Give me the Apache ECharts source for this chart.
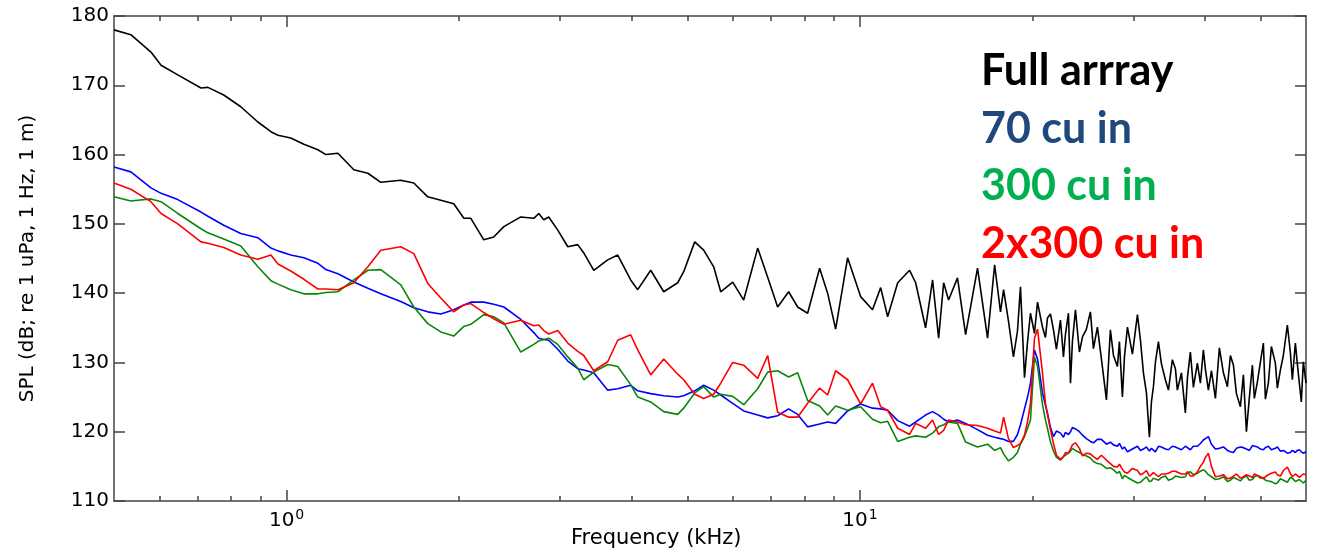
<!DOCTYPE html>
<html>
<head>
<meta charset="utf-8">
<title>SPL spectrum</title>
<script src="https://cdn.jsdelivr.net/npm/echarts@6/dist/echarts.min.js"></script>
<style>
  html, body { margin: 0; padding: 0; background: #fff; }
  #chart { width: 1325px; height: 555px; }
</style>
</head>
<body>
<div id="chart"></div>
<script>
// sample frequencies (kHz), shared by the four curves
const freq = [
  0.5, 0.535, 0.58, 0.604, 0.646, 0.709, 0.729, 0.777, 0.832, 0.891,
  0.939, 0.966, 1.017, 1.072, 1.134, 1.171, 1.229, 1.31, 1.386, 1.46,
  1.582, 1.667, 1.763, 1.858, 1.957, 2.038, 2.096, 2.208, 2.298, 2.393,
  2.562, 2.699, 2.754, 2.809, 2.866, 2.972, 3.094, 3.22, 3.299, 3.434,
  3.632, 3.781, 3.983, 4.097, 4.317, 4.548, 4.811, 4.928, 5.151, 5.34,
  5.559, 5.718, 6.0, 6.271, 6.633, 6.905, 7.187, 7.512, 7.788, 8.107,
  8.507, 8.785, 9.072, 9.519, 10.03, 10.52, 10.87, 11.18, 11.64, 12.21,
  12.51, 13.02, 13.39, 13.72, 14.0, 14.28, 14.8, 15.29, 16.04, 16.7,
  17.18, 17.59, 17.81, 18.16, 18.53, 18.83, 19.06, 19.37, 19.61, 19.84,
  20.16, 20.41, 20.82, 21.07, 21.24, 21.5, 21.76, 22.02, 22.38, 22.65,
  22.83, 23.11, 23.3, 23.48, 23.77, 24.15, 24.45, 24.84, 25.24, 25.55,
  25.96, 26.38, 26.92, 27.35, 27.69, 28.13, 28.36, 28.7, 28.94, 29.29,
  29.88, 30.49, 30.86, 31.23, 31.61, 31.99, 32.25, 32.51, 32.77, 33.17,
  33.57, 34.11, 34.53, 35.08, 35.51, 35.79, 36.38, 36.96, 37.27, 37.71,
  38.17, 38.79, 39.26, 39.73, 40.06, 40.54, 41.04, 41.7, 42.37, 43.06,
  43.76, 44.29, 44.83, 45.37, 46.1, 46.66, 47.23, 47.8, 48.38, 48.76,
  49.36, 49.95, 50.56, 50.97, 51.58, 52.21, 53.05, 53.48, 54.13, 54.78,
  55.67, 56.34, 56.8, 57.49, 57.95, 58.42, 58.88, 59.36, 60
];

// SPL (dB re 1 uPa, 1 Hz, 1 m)
const fullArray = [
  178.0, 177.3, 174.8, 172.9, 171.5, 169.6, 169.7, 168.6, 166.9, 164.7,
  163.3, 162.8, 162.4, 161.5, 160.7, 160.0, 160.2, 157.8, 157.3, 156.0,
  156.3, 155.9, 153.9, 153.4, 152.9, 150.8, 150.8, 147.7, 148.1, 149.6,
  151.0, 150.8, 151.5, 150.6, 151.0, 149.1, 146.7, 147.0, 145.8, 143.3,
  144.8, 145.5, 141.9, 140.5, 143.3, 140.2, 141.5, 143.1, 147.4, 146.2,
  143.8, 140.2, 141.6, 139.0, 146.5, 142.3, 138.0, 140.2, 138.0, 137.1,
  143.6, 140.0, 134.8, 145.1, 139.5, 137.6, 140.8, 136.6, 141.5, 143.3,
  141.5, 135.0, 141.9, 133.5, 141.5, 139.0, 142.2, 134.0, 143.6, 133.5,
  144.1, 137.3, 140.5, 136.0, 130.8, 134.5, 140.9, 127.8, 133.0, 137.1,
  134.2, 138.7, 135.1, 133.6, 136.4, 137.0, 134.7, 131.9, 136.1, 130.8,
  134.0, 137.1, 127.0, 133.0, 137.6, 131.5, 133.7, 134.8, 137.3, 132.0,
  135.1, 130.5, 124.6, 134.7, 131.0, 129.4, 133.0, 125.0, 130.8, 135.1,
  131.2, 136.9, 133.2, 128.5, 125.6, 119.2, 124.3, 126.5, 130.0, 133.0,
  129.8, 127.5, 126.0, 130.4, 129.1, 126.0, 128.5, 122.7, 127.8, 131.5,
  126.4, 129.9, 127.0, 131.8, 129.0, 126.0, 128.8, 124.8, 132.1, 128.5,
  126.5, 131.0, 129.6, 125.5, 123.6, 128.2, 120.0, 125.0, 129.6, 124.8,
  127.2, 130.0, 132.8, 124.7, 127.0, 132.3, 129.9, 126.3, 128.9, 131.0,
  135.4, 131.5, 127.5, 132.8, 129.8, 127.0, 124.3, 130.1, 127.0
];

const cu70 = [
  158.2, 157.5, 155.2, 154.4, 153.5, 151.7, 151.1, 149.8, 148.6, 148.0,
  146.5, 146.1, 145.5, 145.1, 144.3, 143.4, 142.8, 141.6, 140.7, 139.9,
  138.8, 137.9, 137.3, 137.0, 137.6, 138.3, 138.7, 138.7, 138.4, 138.0,
  136.2, 134.3, 133.5, 133.3, 133.2, 131.9, 130.2, 129.1, 128.9, 128.5,
  126.0, 126.2, 126.7, 125.9, 125.5, 125.2, 125.0, 125.2, 125.9, 126.7,
  126.0, 125.3, 124.1, 123.0, 122.4, 122.0, 122.3, 123.3, 122.5, 120.7,
  121.1, 121.4, 121.2, 123.0, 124.0, 123.4, 123.3, 123.1, 121.6, 120.8,
  121.4, 122.4, 122.9, 122.4, 121.8, 121.4, 121.7, 121.2, 120.3, 119.5,
  119.2, 119.0, 118.9, 118.6, 118.6, 119.6, 121.0, 123.3, 125.0, 127.0,
  131.8, 130.5, 125.6, 123.8, 122.7, 120.6, 119.3, 120.1, 119.8, 119.2,
  119.9, 119.6, 120.0, 120.6, 120.4, 120.0, 119.5, 119.0, 118.6, 118.4,
  118.9, 118.9, 118.2, 118.5, 118.1, 117.9, 118.3, 117.5, 117.8, 117.1,
  117.5, 117.9, 117.3, 117.5, 117.8, 117.2, 117.6, 117.4, 117.1, 117.9,
  117.8, 117.5, 117.4, 117.9, 117.8, 117.6, 117.4, 117.9, 117.7, 117.4,
  117.9, 117.9, 118.3, 118.8, 119.0, 119.3, 118.2, 117.5, 117.6, 117.8,
  117.3, 117.1, 117.0, 117.6, 117.8, 117.7, 117.5, 117.3, 118.0, 117.9,
  117.8, 117.5, 117.4, 117.7, 117.9, 117.4, 117.6, 117.8, 117.2, 117.3,
  116.9, 117.0, 117.3, 117.0, 117.3, 117.4, 117.1, 116.9, 117.1
];

const cu300 = [
  153.9, 153.3, 153.6, 153.2, 151.5, 149.3, 148.7, 147.8, 146.8, 143.8,
  141.8, 141.3, 140.5, 139.9, 139.9, 140.1, 140.2, 141.9, 143.3, 143.4,
  141.2, 138.0, 135.6, 134.4, 133.8, 135.2, 135.5, 136.9, 136.6, 135.7,
  131.5, 132.6, 133.1, 133.3, 133.5, 132.6, 130.8, 129.2, 127.5, 128.6,
  129.7, 129.4, 126.8, 125.0, 124.3, 122.9, 122.5, 123.4, 125.6, 126.5,
  125.0, 125.4, 125.1, 123.9, 126.2, 128.6, 128.8, 127.9, 128.5, 124.5,
  123.7, 122.4, 123.7, 123.1, 123.6, 121.8, 121.3, 121.5, 118.6, 119.2,
  119.4, 119.2, 119.8, 120.7, 121.0, 121.4, 121.2, 118.5, 117.8, 118.2,
  117.3, 117.7, 116.8, 115.8, 116.3, 117.0, 118.2, 119.3, 120.5, 121.7,
  130.8, 129.5, 123.9, 121.7, 120.5, 118.5, 117.2, 116.3, 115.9, 116.4,
  116.2, 116.9, 117.2, 117.6, 117.3, 117.0, 116.7, 116.5, 116.2, 115.7,
  115.4, 115.3, 114.7, 114.8, 114.5, 114.0, 114.3, 113.2, 113.7, 113.4,
  113.0, 112.6, 112.7, 113.1, 113.5, 112.8, 112.9, 113.3, 113.5, 113.0,
  113.4, 113.6, 113.0, 113.2, 113.6, 113.8, 113.4, 113.5, 114.1, 114.2,
  113.8, 114.0, 114.3, 114.5, 114.3, 113.8, 113.5, 113.1, 113.2, 113.5,
  112.8, 113.0, 113.4, 113.2, 112.9, 113.4, 113.6, 113.0, 113.1, 113.5,
  113.7, 113.3, 113.4, 113.0, 112.9, 112.8, 112.5, 112.6, 113.2, 113.0,
  112.7, 113.4, 113.3, 112.8, 113.0, 113.1, 112.9, 112.6, 113.0
];

const cu2x300 = [
  155.9, 155.0, 153.2, 151.5, 150.0, 147.4, 147.2, 146.6, 145.5, 144.9,
  145.5, 144.2, 143.2, 142.0, 140.6, 140.6, 140.5, 141.5, 143.8, 146.2,
  146.7, 145.7, 141.4, 139.3, 137.3, 138.3, 138.5, 137.2, 136.3, 135.5,
  136.1, 135.3, 135.4, 134.6, 134.1, 134.6, 132.8, 131.6, 131.0, 128.8,
  130.1, 133.2, 134.0, 131.8, 128.2, 130.5, 128.3, 127.5, 125.4, 124.8,
  125.4, 127.0, 130.0, 129.6, 127.7, 131.0, 122.8, 122.1, 122.1, 124.1,
  126.3, 125.3, 128.8, 127.5, 124.0, 127.0, 123.6, 123.1, 120.5, 119.6,
  121.2, 120.5, 121.7, 119.6, 120.2, 121.7, 121.4, 121.0, 120.9, 120.5,
  120.1, 119.8, 122.1, 119.0, 117.7, 118.0, 118.3, 119.5, 121.5, 124.1,
  133.5, 134.8, 128.5, 124.1, 122.5, 120.3, 118.3, 116.6, 116.0, 116.4,
  117.0, 116.9, 117.5, 118.1, 118.4, 117.6, 116.5, 116.9, 116.8, 116.4,
  116.0, 116.6, 115.9, 115.4, 115.0, 114.9, 115.3, 114.6, 114.2, 114.0,
  114.7, 114.4, 113.8, 114.0, 114.4, 113.6, 113.8, 114.1, 114.3, 113.5,
  113.9, 113.9, 114.0, 114.3, 114.3, 114.5, 113.9, 113.9, 114.2, 113.6,
  113.6, 114.2, 115.0, 115.6, 116.3, 116.9, 115.0, 113.5, 113.6, 113.8,
  113.2, 113.3, 113.6, 113.9, 113.3, 113.5, 113.8, 113.6, 113.4, 113.9,
  113.7, 113.5, 113.2, 113.5, 113.8, 114.0, 114.2, 113.8, 113.6, 114.4,
  114.9, 114.0, 113.5, 113.9, 113.7, 113.4, 113.6, 113.9, 113.8
];

// axis ticks
const majorTicks = [1, 10];
const majorLabels = ["10{e|0}", "10{e|1}"];
const minorTicks = [0.6, 0.7, 0.8, 0.9, 2, 3, 4, 5, 6, 7, 8, 9, 20, 30, 40, 50];

const seriesNames = ["Full arrray", "70 cu in", "300 cu in", "2x300 cu in"];
const lineColors = ["#000000", "#0000ff", "#0a860a", "#ff0000"];
const labelColors = ["#000000", "#1f497d", "#00b050", "#ff0000"];

const axisGray = "#444";
const tickFont = "DejaVu Sans";

const chart = echarts.init(document.getElementById("chart"));

const pairs = arr => freq.map((f, i) => [f, arr[i]]);

const xBase = {
  type: "log",
  logBase: 10,
  min: 0.5,
  max: 60,
  gridIndex: 0,
  splitLine: { show: false },
  axisLine: { show: false }
};

const tick = (len, values) => ({
  show: true,
  inside: true,
  length: len,
  customValues: values,
  lineStyle: { color: axisGray, width: 1.5 }
});

const yTick = { show: true, inside: true, length: 11, lineStyle: { color: axisGray, width: 1.5 } };

const option = {
  animation: false,
  backgroundColor: "#fff",
  grid: { left: 114, right: 19, top: 16, bottom: 54, containLabel: false },
  xAxis: [
    {
      ...xBase,
      position: "bottom",
      axisLine: { show: true, onZero: false, lineStyle: { color: axisGray, width: 1.5 } },
      axisTick: tick(11, majorTicks),
      axisLabel: {
        show: true,
        customValues: majorTicks,
        margin: 7,
        color: "#000",
        fontFamily: tickFont,
        fontSize: 20,
        formatter: v => majorLabels[majorTicks.indexOf(v)] || "",
        rich: {
          e: { fontSize: 14, fontFamily: tickFont, color: "#000", verticalAlign: "top", padding: [0, 0, 12, 1] }
        }
      }
    },
    { ...xBase, position: "bottom", axisTick: tick(5, minorTicks), axisLabel: { show: false } },
    {
      ...xBase,
      position: "top",
      axisLine: { show: true, onZero: false, lineStyle: { color: axisGray, width: 1.5 } },
      axisTick: tick(11, majorTicks),
      axisLabel: { show: false }
    },
    { ...xBase, position: "top", axisTick: tick(5, minorTicks), axisLabel: { show: false } }
  ],
  yAxis: [
    {
      type: "value",
      position: "left",
      min: 110,
      max: 180,
      interval: 10,
      splitLine: { show: false },
      axisLine: { show: true, onZero: false, lineStyle: { color: axisGray, width: 1.5 } },
      axisTick: yTick,
      axisLabel: { show: true, margin: 5, color: "#000", fontFamily: tickFont, fontSize: 20 },
      name: "SPL (dB; re 1 uPa, 1 Hz, 1 m)",
      nameLocation: "middle",
      nameGap: 76,
      nameTextStyle: { color: "#000", fontFamily: tickFont, fontSize: 20 }
    },
    {
      type: "value",
      position: "right",
      min: 110,
      max: 180,
      interval: 10,
      splitLine: { show: false },
      axisLine: { show: true, onZero: false, lineStyle: { color: axisGray, width: 1.5 } },
      axisTick: yTick,
      axisLabel: { show: false }
    }
  ],
  series: [fullArray, cu70, cu300, cu2x300].map((arr, i) => ({
    name: seriesNames[i],
    type: "line",
    xAxisIndex: 0,
    yAxisIndex: 0,
    data: pairs(arr),
    showSymbol: false,
    symbol: "none",
    lineStyle: { color: lineColors[i], width: 1.6 },
    z: 2 + i
  })),
  graphic: [
    {
      type: "text",
      left: 571,
      top: 528,
      style: { text: "Frequency (kHz)", fill: "#000", font: "21px 'DejaVu Sans'" }
    },
    ...seriesNames.map((name, i) => ({
      type: "text",
      left: 981,
      top: 50 + i * 57.5,
      style: { text: name, fill: labelColors[i], font: "bold 43px Lato" },
      z: 20
    }))
  ]
};

chart.setOption(option);
</script>
</body>
</html>
